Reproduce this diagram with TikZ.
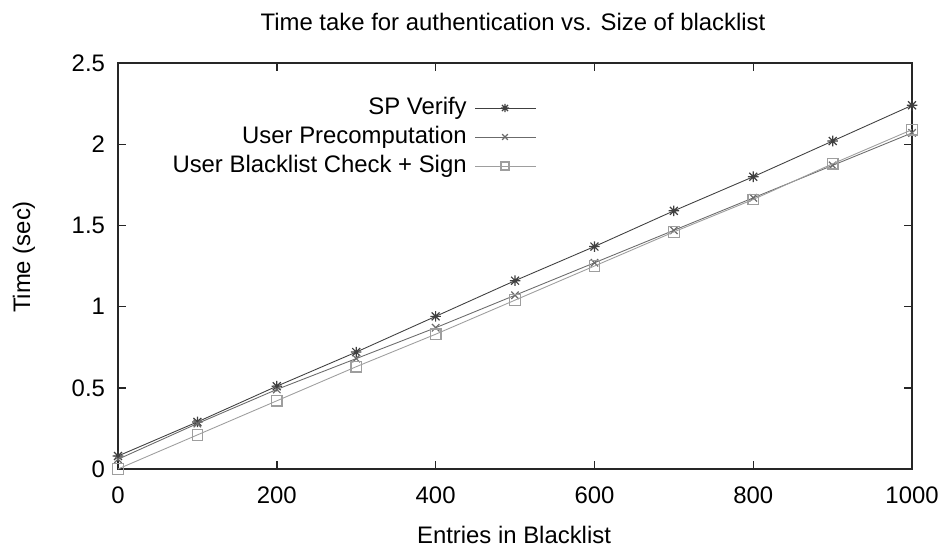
\documentclass[tikz,border=0pt]{standalone}
\usepackage{fontspec}
\setmainfont{Liberation Sans}
\usetikzlibrary{plotmarks,positioning}
\definecolor{spgray}{gray}{0.25}
\definecolor{pregray}{gray}{0.42}
\definecolor{blgray}{gray}{0.62}
% eight-spoke star, a + and an x on top of each other
\pgfdeclareplotmark{starpx}{%
  \pgfpathmoveto{\pgfqpoint{-\pgfplotmarksize}{0pt}}%
  \pgfpathlineto{\pgfqpoint{\pgfplotmarksize}{0pt}}%
  \pgfpathmoveto{\pgfqpoint{0pt}{-\pgfplotmarksize}}%
  \pgfpathlineto{\pgfqpoint{0pt}{\pgfplotmarksize}}%
  \pgfpathmoveto{\pgfqpoint{-.75\pgfplotmarksize}{-.75\pgfplotmarksize}}%
  \pgfpathlineto{\pgfqpoint{.75\pgfplotmarksize}{.75\pgfplotmarksize}}%
  \pgfpathmoveto{\pgfqpoint{-.75\pgfplotmarksize}{.75\pgfplotmarksize}}%
  \pgfpathlineto{\pgfqpoint{.75\pgfplotmarksize}{-.75\pgfplotmarksize}}%
  \pgfusepathqstroke}
\tikzset{
  txt/.style={font=\fontsize{13.6}{16}\selectfont, inner sep=0pt},
  frame/.style={line width=0.8pt, black!85},
  series/.style={line width=0.5pt, mark size=3pt, mark options={solid, line width=0.7pt}},
}

\begin{document}
\begin{tikzpicture}[x=0.02cm,y=0.02cm]
    \useasboundingbox (0,0) rectangle (947,549);

    % title and axis labels
    \node[txt] (title) at (513,527) {Time take for authentication vs. Size of blacklist};
    \node[txt] (xlabel) at (514,14) {Entries in Blacklist};
    \node[txt, rotate=90] (ylabel) at (24,292) {Time (sec)};

    % data part
    \begin{scope}[shift={(118,80)}, x=0.01588cm, y=3.248cm]
        \draw[frame] (0,0) rectangle (1000,2.5);
        % ticks
        \foreach \t in {0,0.5,1,1.5,2,2.5} {
            \draw[frame] (0,\t) -- ++(8*1.26,0);
            \draw[frame] (1000,\t) -- ++(-8*1.26,0);
            \node[txt, anchor=east] (yt) at (-16,\t) {\t};
        }
        \foreach \n in {0,200,...,1000} {
            \draw[frame] (\n,0) -- ++(0,8/162.4);
            \draw[frame] (\n,2.5) -- ++(0,-8/162.4);
            \node[txt] (xt) at (\n,-26/162.4) {\n};
        }

        % series
        \draw[series, spgray, mark=starpx] plot coordinates {
            (0,0.08) (100,0.29) (200,0.51) (300,0.72) (400,0.94) (500,1.16)
            (600,1.37) (700,1.59) (800,1.80) (900,2.02) (1000,2.24)};
        \draw[series, pregray, mark=x] plot coordinates {
            (0,0.06) (100,0.28) (200,0.49) (300,0.68) (400,0.87) (500,1.07)
            (600,1.27) (700,1.47) (800,1.67) (900,1.87) (1000,2.07)};
        \draw[series, blgray, mark=square] plot coordinates {
            (0,0.0) (100,0.21) (200,0.42) (300,0.63) (400,0.83) (500,1.04)
            (600,1.25) (700,1.46) (800,1.66) (900,1.88) (1000,2.09)};
    \end{scope}

    % legend
    \node[txt, anchor=east] (lsp) at (467,441) {SP Verify};
    \node[txt, anchor=east] (lpre) at (467,412) {User Precomputation};
    \node[txt, anchor=east] (lbl) at (467,383) {User Blacklist Check + Sign};
    \coordinate (esp) at (536,441);
    \coordinate (epre) at (536,412);
    \coordinate (ebl) at (536,383);
    \draw[series, spgray] ([xshift=8*0.02cm]lsp.east) -- (esp);
    \draw[series, pregray] ([xshift=8*0.02cm]lpre.east) -- (epre);
    \draw[series, blgray] ([xshift=8*0.02cm]lbl.east) -- (ebl);
    \path[series, spgray, mark size=2.3pt] plot[mark=starpx] coordinates {(505,441)};
    \path[series, pregray, mark size=2.3pt] plot[mark=x] coordinates {(505,412)};
    \path[series, blgray, mark size=2.3pt] plot[mark=square] coordinates {(505,383)};
\end{tikzpicture}
\end{document}
